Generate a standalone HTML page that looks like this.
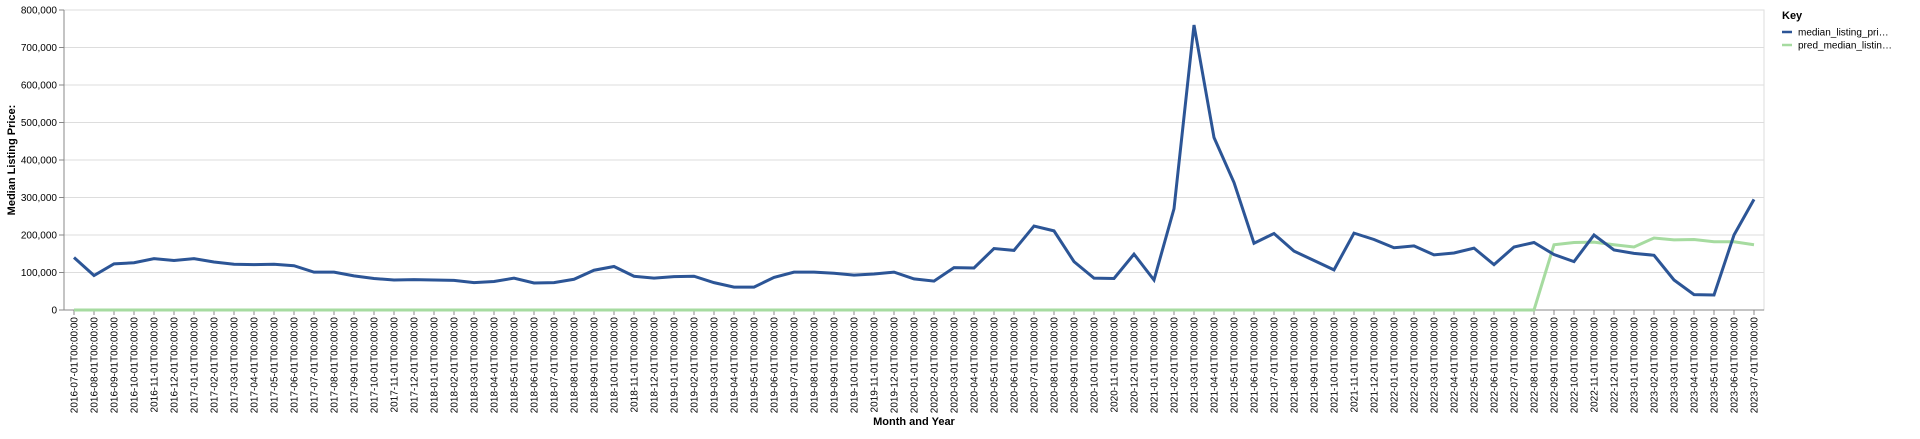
<!DOCTYPE html>
<html><head><meta charset="utf-8"><style>
body{margin:0;background:#fff;}
svg text{font-family:"Liberation Sans",Arial,sans-serif;}
</style></head><body>
<svg id="chart" width="1920" height="434" xmlns="http://www.w3.org/2000/svg"></svg>
<script>
const months = [];
for (let y=2016,m=7; !(y===2023&&m===8); ) { months.push(y+'-'+String(m).padStart(2,'0')+'-01T00:00:00'); m++; if(m>12){m=1;y++;} }
const actualValues = [140000,92000,123000,126000,137000,132000,137000,128000,122000,121000,122000,118000,101000,101000,91000,84000,80000,81000,80000,79000,73000,76000,85000,72000,73000,82000,106000,116000,90000,85000,89000,90000,73000,61000,61000,87000,101000,101000,98000,93000,96000,101000,83000,77000,113000,112000,164000,159000,224000,211000,129000,85000,84000,149000,80000,270000,760000,460000,340000,178000,204000,157000,132000,107000,205000,188000,166000,171000,147000,152000,165000,121000,168000,180000,148000,129000,200000,160000,151000,146000,80000,41000,40000,200000,295000];
const predValues = [0,0,0,0,0,0,0,0,0,0,0,0,0,0,0,0,0,0,0,0,0,0,0,0,0,0,0,0,0,0,0,0,0,0,0,0,0,0,0,0,0,0,0,0,0,0,0,0,0,0,0,0,0,0,0,0,0,0,0,0,0,0,0,0,0,0,0,0,0,0,0,0,0,0,174000,180000,181000,174000,168000,192000,187000,188000,182000,182000,174000];
const yTicks = [0,100000,200000,300000,400000,500000,600000,700000,800000];
const seriesNames = ['median_listing_pri…','pred_median_listin…'];
const seriesColors = ['#2c5596','#a6dba0'];

const NS='http://www.w3.org/2000/svg';
const svg=document.getElementById('chart');
const L=64,R=1764,T=10,B=310;
const step=(R-L)/months.length;
const x=i=>L+step*(i+0.5);
const y=v=>B-(v/800000)*(B-T);
function mk(tag,attrs,parent){const e=document.createElementNS(NS,tag);for(const k in attrs)e.setAttribute(k,attrs[k]);(parent||svg).appendChild(e);return e;}

const grid=mk('g',{});


yTicks.forEach(t=>{
  const l=mk('line',{x1:L,x2:R,y1:y(t),y2:y(t),stroke:'#ddd','stroke-width':1},grid);
  
  
});
const border=mk('rect',{x:L,y:T,width:R-L,height:B-T,fill:'none',stroke:'#ddd'});



const yAxis=mk('g',{});


mk('line',{x1:L,x2:L,y1:T,y2:B,stroke:'#888'},yAxis);
yTicks.forEach(t=>{
  mk('line',{x1:L-5,x2:L,y1:y(t),y2:y(t),stroke:'#888'},yAxis);
  const tx=mk('text',{x:L-7,y:y(t)+3.5,'text-anchor':'end','font-size':10,fill:'#000'},yAxis);
  tx.textContent=t.toLocaleString('en-US');
  
  
});
const yt=mk('text',{transform:'translate(15,160) rotate(-90)','text-anchor':'middle','font-size':11,'font-weight':'bold'});
yt.textContent='Median Listing Price:';



const xAxis=mk('g',{});


mk('line',{x1:L,x2:R,y1:B,y2:B,stroke:'#888'},xAxis);
months.forEach((m,i)=>{
  mk('line',{x1:x(i),x2:x(i),y1:B,y2:B+5,stroke:'#888'},xAxis);
  const tx=mk('text',{transform:`translate(${x(i)+3.5},${B+7}) rotate(-90)`,'text-anchor':'end','font-size':10},xAxis);
  tx.textContent=m;
  
  
});
const xt=mk('text',{x:(L+R)/2,y:425,'text-anchor':'middle','font-size':11,'font-weight':'bold'});
xt.textContent='Month and Year';



const predLine=mk('path',{d:predValues.map((v,i)=>(i?'L':'M')+x(i)+','+y(v)).join(''),fill:'none',stroke:seriesColors[1],'stroke-width':3,'stroke-linejoin':'miter'});


const actLine=mk('path',{d:actualValues.map((v,i)=>(i?'L':'M')+x(i)+','+y(v)).join(''),fill:'none',stroke:seriesColors[0],'stroke-width':3,'stroke-linejoin':'miter'});



const leg=mk('g',{});


const lt=mk('text',{x:1782,y:19,'font-size':11,'font-weight':'bold'},leg);
lt.textContent='Key';


seriesNames.forEach((n,i)=>{
  const g=mk('g',{},leg);
  
  
  const yy=32+i*13;
  mk('line',{x1:1782,x2:1792,y1:yy,y2:yy,stroke:seriesColors[i],'stroke-width':2.5},g);
  const t=mk('text',{x:1798,y:yy+3.5,'font-size':10},g);
  t.textContent=n;
});
</script>
</body></html>
